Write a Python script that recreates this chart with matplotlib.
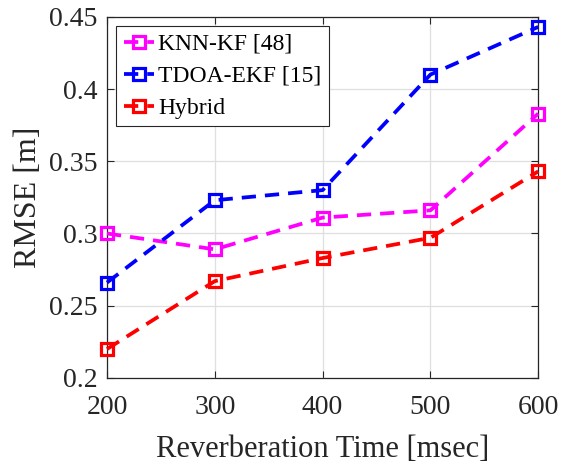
import matplotlib
matplotlib.use('Agg')
import matplotlib.pyplot as plt

# reverberation time (msec) and RMSE (m) per method
reverb_ms = [200, 300, 400, 500, 600]
rmse_knn_kf = [0.300, 0.289, 0.311, 0.316, 0.383]
rmse_tdoa_ekf = [0.266, 0.323, 0.330, 0.410, 0.443]
rmse_hybrid = [0.220, 0.267, 0.283, 0.297, 0.343]

plt.rcParams['font.family'] = ['Liberation Serif', 'DejaVu Serif']

fig = plt.figure(figsize=(5.66, 4.66), dpi=100)
ax = fig.add_axes([0.189, 0.189, 0.762, 0.775])

style = dict(ls=(0, (3.8, 2.4)), lw=2.7, marker='s', ms=8.5, mew=2.3,
             mfc='none', clip_on=False, zorder=3)
ax.plot(reverb_ms, rmse_knn_kf, color='#FF00FF', label='KNN-KF [48]', **style)
ax.plot(reverb_ms, rmse_tdoa_ekf, color='#0000FF', label='TDOA-EKF [15]', **style)
ax.plot(reverb_ms, rmse_hybrid, color='#FF0000', label='Hybrid', **style)

ax.set_xlim(200, 600)
ax.set_ylim(0.2, 0.45)
ax.set_xticks(reverb_ms)
ax.set_yticks([0.2, 0.25, 0.3, 0.35, 0.4, 0.45])
ax.set_yticklabels(['0.2', '0.25', '0.3', '0.35', '0.4', '0.45'])
ax.grid(True, color='#DFDFDF', lw=0.9)
ax.set_axisbelow(True)
ax.tick_params(direction='in', length=5, width=0.8, top=True, right=True,
               labelsize=20, colors='#262626')
ax.tick_params(axis='x', pad=12)
ax.tick_params(axis='y', pad=7)
for s in ax.spines.values():
    s.set_color('#262626')
    s.set_linewidth(0.9)

ax.set_xlabel('Reverberation Time [msec]', fontsize=22, color='#262626', labelpad=11)
ax.set_ylabel('RMSE [m]', fontsize=23, color='#262626', labelpad=4)

leg = ax.legend(loc='upper left', fontsize=17, handlelength=1.3, handletextpad=0.17,
                borderpad=0.3, labelspacing=0.45, borderaxespad=0.4,
                fancybox=False, framealpha=1, edgecolor='#262626')
leg.get_frame().set_linewidth(0.8)

fig.savefig('out.png', dpi=100)
